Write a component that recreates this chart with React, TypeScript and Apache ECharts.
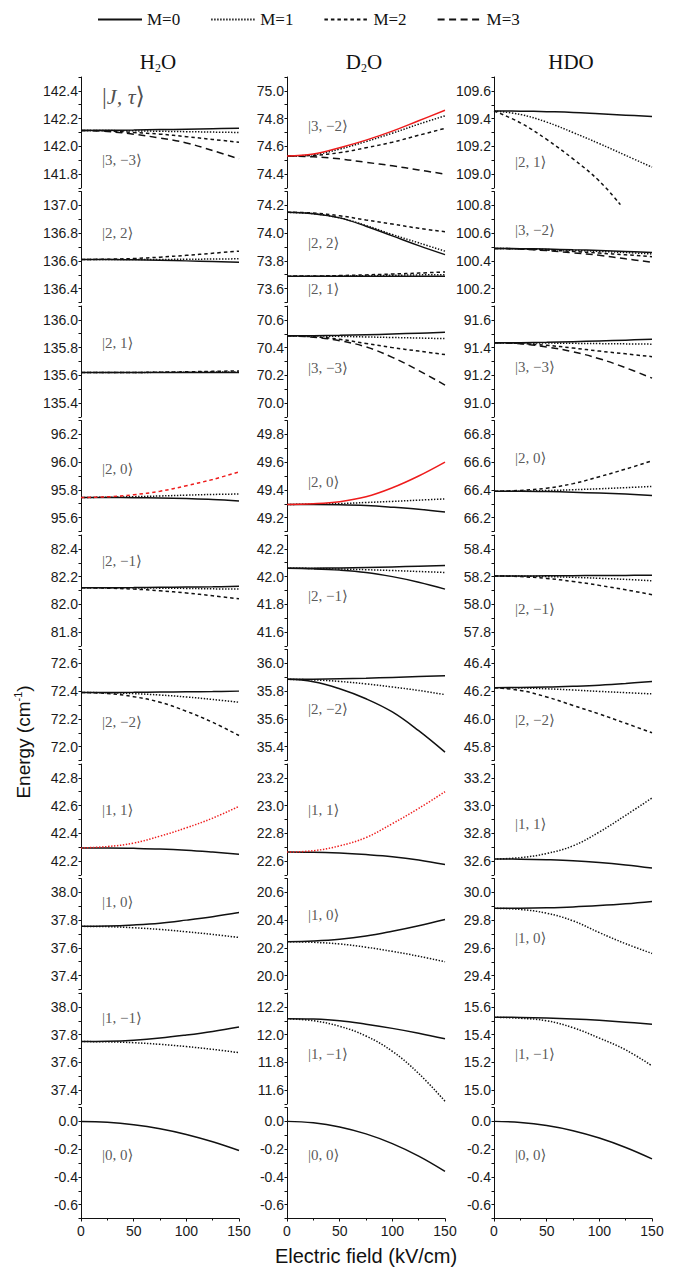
import React, { useEffect, useRef } from 'react';
import * as echarts from 'echarts';

// ---------- data ----------
const FIELD = [0, 25, 50, 75, 100, 125, 150];
const FIELD_SHORT = [0, 25, 50, 75, 100, 120];
const LEGEND_NAMES = ['M=0', 'M=1', 'M=2', 'M=3'];
const COLUMN_TITLES = ['H{s|2}O', 'D{s|2}O', 'HDO'];

// y-axis lower bounds per row (H2O, D2O, HDO); each panel spans 0.8 cm-1
const Y_MIN_H2O = [141.7, 136.3, 135.3, 95.5, 81.7, 71.9, 42.1, 37.3, 37.3, -0.7];
const Y_MIN_D2O = [74.3, 73.5, 69.9, 49.1, 41.5, 35.3, 22.5, 19.9, 11.5, -0.7];
const Y_MIN_HDO = [108.9, 100.1, 90.9, 66.1, 57.7, 45.7, 32.5, 29.3, 14.9, -0.7];

// state labels per row (text, energy position)
const LABELS_H2O: [string, number][] = [['|3, −3⟩', 141.9], ['|2, 2⟩', 136.8], ['|2, 1⟩', 135.83], ['|2, 0⟩', 95.95], ['|2, −1⟩', 82.315], ['|2, −2⟩', 72.175], ['|1, 1⟩', 42.57], ['|1, 0⟩', 37.93], ['|1, −1⟩', 37.92], ['|0, 0⟩', -0.24]];
const LABELS_D2O: [string, number][] = [['|3, −2⟩', 74.75], ['|2, 2⟩', 73.93], ['|3, −3⟩', 70.255], ['|2, 0⟩', 49.46], ['|2, −1⟩', 41.86], ['|2, −2⟩', 35.67], ['|1, 1⟩', 22.97], ['|1, 0⟩', 20.44], ['|1, −1⟩', 11.86], ['|0, 0⟩', -0.24]];
const LABELS_D2O_EXTRA: [string, number][] = [['|2, 1⟩', 73.6]];
const LABELS_HDO: [string, number][] = [['|2, 1⟩', 109.09], ['|3, −2⟩', 100.62], ['|3, −3⟩', 91.26], ['|2, 0⟩', 66.63], ['|2, −1⟩', 57.97], ['|2, −2⟩', 45.99], ['|1, 1⟩', 32.87], ['|1, 0⟩', 29.67], ['|1, −1⟩', 15.26], ['|0, 0⟩', -0.24]];
const LABEL_FIELD = 20;
const JTAU_POS = [20, 142.36];

// ---- row 1 ----
const H2O_3m3_M0 = [142.115, 142.116, 142.118, 142.121, 142.124, 142.127, 142.13];
const H2O_3m3_M1 = [142.115, 142.114, 142.112, 142.109, 142.106, 142.103, 142.1];
const H2O_3m3_M2 = [142.115, 142.111, 142.1, 142.088, 142.07, 142.05, 142.03];
const H2O_3m3_M3 = [142.115, 142.107, 142.088, 142.06, 142.025, 141.97, 141.91];
const D2O_3m2_M0 = [74.53, 74.545, 74.59, 74.645, 74.71, 74.785, 74.86];
const D2O_3m2_M1 = [74.53, 74.54, 74.58, 74.635, 74.695, 74.76, 74.82];
const D2O_3m2_M2 = [74.53, 74.535, 74.555, 74.59, 74.63, 74.68, 74.73];
const D2O_3m2_M3 = [74.53, 74.525, 74.51, 74.485, 74.46, 74.43, 74.4];
const HDO_21_M0 = [109.455, 109.454, 109.45, 109.445, 109.435, 109.425, 109.415];
const HDO_21_M1 = [109.455, 109.43, 109.375, 109.3, 109.22, 109.135, 109.05];
const HDO_21_M2 = [109.455, 109.37, 109.25, 109.11, 108.95, 108.78];
// ---- row 2 ----
const H2O_22_M0 = [136.61, 136.61, 136.608, 136.605, 136.6, 136.595, 136.59];
const H2O_22_M1 = [136.61, 136.61, 136.61, 136.61, 136.612, 136.613, 136.615];
const H2O_22_M2 = [136.61, 136.612, 136.617, 136.627, 136.64, 136.655, 136.67];
const D2O_22_M0 = [74.15, 74.14, 74.11, 74.05, 73.98, 73.91, 73.845];
const D2O_22_M1 = [74.15, 74.14, 74.11, 74.055, 73.99, 73.93, 73.87];
const D2O_22_M2 = [74.15, 74.145, 74.125, 74.095, 74.065, 74.035, 74.01];
const D2O_21_M0 = [73.69, 73.69, 73.69, 73.69, 73.69, 73.69, 73.69];
const D2O_21_M1 = [73.69, 73.69, 73.691, 73.693, 73.696, 73.699, 73.7];
const D2O_21_M2 = [73.69, 73.691, 73.694, 73.699, 73.705, 73.712, 73.72];
const HDO_3m2_M0 = [100.49, 100.488, 100.485, 100.48, 100.475, 100.468, 100.46];
const HDO_3m2_M1 = [100.49, 100.487, 100.482, 100.476, 100.468, 100.46, 100.45];
const HDO_3m2_M2 = [100.49, 100.486, 100.478, 100.468, 100.456, 100.444, 100.43];
const HDO_3m2_M3 = [100.49, 100.485, 100.474, 100.458, 100.44, 100.415, 100.39];
// ---- row 3 ----
const H2O_21_M0 = [135.62, 135.62, 135.62, 135.62, 135.62, 135.62, 135.62];
const H2O_21_M1 = [135.62, 135.62, 135.621, 135.622, 135.623, 135.624, 135.625];
const H2O_21_M2 = [135.62, 135.62, 135.621, 135.623, 135.626, 135.629, 135.632];
const D2O_3m3_M0 = [70.485, 70.486, 70.489, 70.493, 70.498, 70.504, 70.51];
const D2O_3m3_M1 = [70.485, 70.484, 70.481, 70.477, 70.473, 70.469, 70.465];
const D2O_3m3_M2 = [70.485, 70.478, 70.46, 70.43, 70.4, 70.375, 70.35];
const D2O_3m3_M3 = [70.485, 70.475, 70.45, 70.405, 70.33, 70.235, 70.13];
const HDO_3m3_M0 = [91.435, 91.436, 91.439, 91.443, 91.448, 91.454, 91.46];
const HDO_3m3_M1 = [91.435, 91.434, 91.433, 91.431, 91.429, 91.427, 91.425];
const HDO_3m3_M2 = [91.435, 91.43, 91.417, 91.397, 91.375, 91.355, 91.335];
const HDO_3m3_M3 = [91.435, 91.428, 91.405, 91.37, 91.32, 91.255, 91.18];
// ---- row 4 ----
const H2O_20_M0 = [95.745, 95.745, 95.744, 95.741, 95.737, 95.731, 95.72];
const H2O_20_M1 = [95.745, 95.747, 95.751, 95.756, 95.762, 95.767, 95.77];
const H2O_20_M2 = [95.745, 95.75, 95.765, 95.79, 95.83, 95.875, 95.93];
const D2O_20_M0 = [49.295, 49.295, 49.293, 49.287, 49.275, 49.26, 49.24];
const D2O_20_M1 = [49.295, 49.297, 49.301, 49.309, 49.317, 49.326, 49.335];
const D2O_20_M2 = [49.295, 49.3, 49.315, 49.35, 49.415, 49.5, 49.6];
const HDO_20_M0 = [66.39, 66.39, 66.388, 66.383, 66.377, 66.37, 66.36];
const HDO_20_M1 = [66.39, 66.391, 66.395, 66.401, 66.408, 66.416, 66.425];
const HDO_20_M2 = [66.39, 66.396, 66.412, 66.445, 66.495, 66.55, 66.61];
// ---- row 5 ----
const H2O_2m1_M0 = [82.12, 82.12, 82.121, 82.123, 82.125, 82.127, 82.13];
const H2O_2m1_M1 = [82.12, 82.12, 82.119, 82.117, 82.115, 82.112, 82.11];
const H2O_2m1_M2 = [82.12, 82.117, 82.11, 82.098, 82.082, 82.062, 82.04];
const D2O_2m1_M0 = [42.06, 42.061, 42.063, 42.066, 42.07, 42.075, 42.08];
const D2O_2m1_M1 = [42.06, 42.059, 42.055, 42.05, 42.044, 42.037, 42.03];
const D2O_2m1_M2 = [42.06, 42.056, 42.047, 42.03, 42.0, 41.96, 41.91];
const HDO_2m1_M0 = [58.205, 58.205, 58.206, 58.207, 58.208, 58.209, 58.21];
const HDO_2m1_M1 = [58.205, 58.204, 58.2, 58.195, 58.188, 58.18, 58.17];
const HDO_2m1_M2 = [58.205, 58.2, 58.187, 58.165, 58.137, 58.105, 58.07];
// ---- row 6 ----
const H2O_2m2_M0 = [72.39, 72.39, 72.391, 72.393, 72.395, 72.397, 72.4];
const H2O_2m2_M1 = [72.39, 72.388, 72.382, 72.372, 72.358, 72.34, 72.32];
const H2O_2m2_M2 = [72.39, 72.383, 72.36, 72.32, 72.255, 72.175, 72.08];
const D2O_2m2_M0 = [35.885, 35.886, 35.889, 35.893, 35.899, 35.905, 35.91];
const D2O_2m2_M1 = [35.885, 35.881, 35.87, 35.852, 35.83, 35.805, 35.775];
const D2O_2m2_M2 = [35.885, 35.868, 35.817, 35.745, 35.65, 35.515, 35.36];
const HDO_2m2_M0 = [46.225, 46.226, 46.229, 46.235, 46.243, 46.255, 46.27];
const HDO_2m2_M1 = [46.225, 46.223, 46.217, 46.208, 46.198, 46.189, 46.18];
const HDO_2m2_M2 = [46.225, 46.205, 46.158, 46.097, 46.035, 45.968, 45.9];
// ---- row 7 ----
const H2O_11_M0 = [42.295, 42.295, 42.292, 42.287, 42.278, 42.265, 42.25];
const H2O_11_M1 = [42.295, 42.305, 42.33, 42.38, 42.44, 42.51, 42.595];
const D2O_11_M0 = [22.665, 22.664, 22.658, 22.647, 22.632, 22.608, 22.575];
const D2O_11_M1 = [22.665, 22.675, 22.71, 22.77, 22.87, 22.98, 23.1];
const HDO_11_M0 = [32.615, 32.614, 32.61, 32.603, 32.59, 32.572, 32.55];
const HDO_11_M1 = [32.615, 32.625, 32.655, 32.71, 32.81, 32.93, 33.055];
// ---- row 8 ----
const H2O_10_M0 = [37.755, 37.757, 37.765, 37.778, 37.8, 37.825, 37.855];
const H2O_10_M1 = [37.755, 37.753, 37.745, 37.733, 37.716, 37.697, 37.675];
const D2O_10_M0 = [20.245, 20.25, 20.262, 20.285, 20.32, 20.36, 20.405];
const D2O_10_M1 = [20.245, 20.24, 20.228, 20.205, 20.175, 20.14, 20.1];
const HDO_10_M0 = [29.885, 29.886, 29.889, 29.895, 29.905, 29.918, 29.935];
const HDO_10_M1 = [29.885, 29.877, 29.85, 29.795, 29.71, 29.63, 29.56];
// ---- row 9 ----
const H2O_1m1_M0 = [37.75, 37.752, 37.76, 37.775, 37.797, 37.823, 37.855];
const H2O_1m1_M1 = [37.75, 37.748, 37.742, 37.73, 37.714, 37.694, 37.67];
const D2O_1m1_M0 = [12.115, 12.112, 12.1, 12.075, 12.045, 12.01, 11.97];
const D2O_1m1_M1 = [12.115, 12.1, 12.06, 11.99, 11.88, 11.72, 11.52];
const HDO_1m1_M0 = [15.525, 15.524, 15.52, 15.513, 15.503, 15.49, 15.475];
const HDO_1m1_M1 = [15.525, 15.518, 15.5, 15.45, 15.375, 15.29, 15.175];
// ---- row 10 ----
const H2O_00_M0 = [0, -0.006, -0.024, -0.053, -0.094, -0.147, -0.21];
const D2O_00_M0 = [0, -0.01, -0.04, -0.09, -0.16, -0.25, -0.36];
const HDO_00_M0 = [0, -0.008, -0.03, -0.067, -0.12, -0.188, -0.27];

type Curve = { m: number; y: number[]; x?: number[]; red?: boolean; solid?: boolean; noClip?: boolean };

const H2O_ROWS: Curve[][] = [
  [{ m: 0, y: H2O_3m3_M0 }, { m: 1, y: H2O_3m3_M1 }, { m: 2, y: H2O_3m3_M2 }, { m: 3, y: H2O_3m3_M3 }],
  [{ m: 0, y: H2O_22_M0 }, { m: 1, y: H2O_22_M1 }, { m: 2, y: H2O_22_M2 }],
  [{ m: 0, y: H2O_21_M0 }, { m: 1, y: H2O_21_M1 }, { m: 2, y: H2O_21_M2 }],
  [{ m: 0, y: H2O_20_M0 }, { m: 1, y: H2O_20_M1 }, { m: 2, y: H2O_20_M2, red: true }],
  [{ m: 0, y: H2O_2m1_M0 }, { m: 1, y: H2O_2m1_M1 }, { m: 2, y: H2O_2m1_M2 }],
  [{ m: 0, y: H2O_2m2_M0 }, { m: 1, y: H2O_2m2_M1 }, { m: 2, y: H2O_2m2_M2 }],
  [{ m: 0, y: H2O_11_M0 }, { m: 1, y: H2O_11_M1, red: true }],
  [{ m: 0, y: H2O_10_M0 }, { m: 1, y: H2O_10_M1 }],
  [{ m: 0, y: H2O_1m1_M0 }, { m: 1, y: H2O_1m1_M1 }],
  [{ m: 0, y: H2O_00_M0 }],
];
const D2O_ROWS: Curve[][] = [
  [{ m: 1, y: D2O_3m2_M1 }, { m: 2, y: D2O_3m2_M2 }, { m: 3, y: D2O_3m2_M3 }, { m: 0, y: D2O_3m2_M0, red: true }],
  [{ m: 0, y: D2O_22_M0 }, { m: 1, y: D2O_22_M1 }, { m: 2, y: D2O_22_M2 }, { m: 0, y: D2O_21_M0 }, { m: 1, y: D2O_21_M1 }, { m: 2, y: D2O_21_M2 }],
  [{ m: 0, y: D2O_3m3_M0 }, { m: 1, y: D2O_3m3_M1 }, { m: 2, y: D2O_3m3_M2 }, { m: 3, y: D2O_3m3_M3 }],
  [{ m: 0, y: D2O_20_M0 }, { m: 1, y: D2O_20_M1 }, { m: 2, y: D2O_20_M2, red: true, solid: true }],
  [{ m: 0, y: D2O_2m1_M0 }, { m: 1, y: D2O_2m1_M1 }, { m: 2, y: D2O_2m1_M2, solid: true }],
  [{ m: 0, y: D2O_2m2_M0 }, { m: 1, y: D2O_2m2_M1 }, { m: 2, y: D2O_2m2_M2, solid: true }],
  [{ m: 0, y: D2O_11_M0 }, { m: 1, y: D2O_11_M1, red: true }],
  [{ m: 0, y: D2O_10_M0 }, { m: 1, y: D2O_10_M1 }],
  [{ m: 0, y: D2O_1m1_M0 }, { m: 1, y: D2O_1m1_M1 }],
  [{ m: 0, y: D2O_00_M0 }],
];
const HDO_ROWS: Curve[][] = [
  [{ m: 0, y: HDO_21_M0 }, { m: 1, y: HDO_21_M1 }, { m: 2, y: HDO_21_M2, x: FIELD_SHORT, noClip: true }],
  [{ m: 0, y: HDO_3m2_M0 }, { m: 1, y: HDO_3m2_M1 }, { m: 2, y: HDO_3m2_M2 }, { m: 3, y: HDO_3m2_M3 }],
  [{ m: 0, y: HDO_3m3_M0 }, { m: 1, y: HDO_3m3_M1 }, { m: 2, y: HDO_3m3_M2 }, { m: 3, y: HDO_3m3_M3 }],
  [{ m: 0, y: HDO_20_M0 }, { m: 1, y: HDO_20_M1 }, { m: 2, y: HDO_20_M2 }],
  [{ m: 0, y: HDO_2m1_M0 }, { m: 1, y: HDO_2m1_M1 }, { m: 2, y: HDO_2m1_M2 }],
  [{ m: 0, y: HDO_2m2_M0 }, { m: 1, y: HDO_2m2_M1 }, { m: 2, y: HDO_2m2_M2 }],
  [{ m: 0, y: HDO_11_M0 }, { m: 1, y: HDO_11_M1 }],
  [{ m: 0, y: HDO_10_M0 }, { m: 1, y: HDO_10_M1 }],
  [{ m: 0, y: HDO_1m1_M0 }, { m: 1, y: HDO_1m1_M1 }],
  [{ m: 0, y: HDO_00_M0 }],
];

// ---------- layout / style ----------
const COL_LEFT = [81, 287, 494];
const COL_WIDTH = 158;
const ROW_TOP0 = 77;
const ROW_PITCH = 114.5;
const ROW_HEIGHT = 111;
const SPAN = 0.8;
const BLACK = '#111111';
const RED = '#ee1c1c';
const DASHES: any[] = ['solid', [1.4, 1.6], [3.5, 3], [7, 4.5]];
const SANS = 'Liberation Sans, Arial, sans-serif';
const SERIF = 'Liberation Serif, DejaVu Serif, serif';
const MATH = 'Liberation Serif, DejaVu Serif, serif';

function buildOption() {
  const grid: any[] = [];
  const xAxis: any[] = [];
  const yAxis: any[] = [];
  const series: any[] = [];
  const cols = [H2O_ROWS, D2O_ROWS, HDO_ROWS];
  const mins = [Y_MIN_H2O, Y_MIN_D2O, Y_MIN_HDO];
  const labels = [LABELS_H2O, LABELS_D2O, LABELS_HDO];
  let idx = 0;
  for (let r = 0; r < 10; r++) {
    for (let c = 0; c < 3; c++) {
      const bottom = r === 9;
      grid.push({ left: COL_LEFT[c], width: COL_WIDTH, top: ROW_TOP0 + r * ROW_PITCH, height: ROW_HEIGHT });
      xAxis.push({
        type: 'value', gridIndex: idx, min: 0, max: 150, interval: 50,
        show: bottom,
        name: bottom && c === 1 ? 'Electric field (kV/cm)' : '',
        nameLocation: 'middle', nameGap: 27,
        nameTextStyle: { fontFamily: SANS, fontSize: 20, color: BLACK },
        axisLine: { show: bottom, onZero: false, lineStyle: { color: BLACK, width: 1 } },
        axisTick: { show: bottom, length: 3, lineStyle: { color: BLACK } },
        minorTick: { show: bottom, splitNumber: 2, length: 2, lineStyle: { color: BLACK } },
        axisLabel: { show: bottom, fontFamily: SANS, fontSize: 14, color: '#1a1a1a', margin: 5 },
        splitLine: { show: false },
      });
      const mn = mins[c][r];
      yAxis.push({
        type: 'value', gridIndex: idx, min: mn, max: +(mn + SPAN).toFixed(1), interval: 0.1,
        axisLine: { show: true, onZero: false, lineStyle: { color: BLACK, width: 1 } },
        axisTick: { show: true, length: 2.5, lineStyle: { color: BLACK } },
        axisLabel: {
          fontFamily: SANS, fontSize: 14, color: '#1a1a1a', margin: 3,
          formatter: (v: number) => {
            const t = Math.round(v * 10);
            return t % 2 === 0 ? (t / 10).toFixed(1) : '';
          },
        },
        splitLine: { show: false },
      });
      for (const cv of cols[c][r]) {
        const xs = cv.x || FIELD;
        series.push({
          type: 'line', name: LEGEND_NAMES[cv.m], xAxisIndex: idx, yAxisIndex: idx,
          data: cv.y.map((v, i) => [xs[i], v]),
          smooth: 0.4, showSymbol: false, symbol: 'none', silent: true,
          clip: !cv.noClip,
          lineStyle: { color: cv.red ? RED : BLACK, width: 1.5, type: cv.solid ? 'solid' : DASHES[cv.m] },
          itemStyle: { color: cv.red ? RED : BLACK },
          z: cv.red ? 3 : 2,
        });
      }
      const lbls: any[] = [{ value: [LABEL_FIELD, labels[c][r][1]], name: labels[c][r][0] }];
      if (c === 1 && r === 1) lbls.push({ value: [LABEL_FIELD, LABELS_D2O_EXTRA[0][1]], name: LABELS_D2O_EXTRA[0][0] });
      const scatterData: any[] = lbls.map((d) => ({
        value: d.value,
        label: { show: true, position: 'right', distance: 0, formatter: d.name, fontFamily: MATH, fontSize: 15, color: '#2e2e2e' },
      }));
      if (r === 0 && c === 0) {
        scatterData.push({
          value: JTAU_POS,
          label: {
            show: true, position: 'right', distance: 0,
            formatter: '{a||}{i|J, τ}{a|⟩}',
            rich: {
              a: { fontFamily: MATH, fontSize: 24, color: '#222' },
              i: { fontFamily: MATH, fontSize: 22, fontStyle: 'italic', color: '#222' },
            },
          },
        });
      }
      series.push({
        type: 'scatter', name: 'state', xAxisIndex: idx, yAxisIndex: idx, symbolSize: 0, silent: true,
        data: scatterData, z: 5,
      });
      idx++;
    }
  }

  const graphic: any[] = [];
  COLUMN_TITLES.forEach((t, c) => {
    graphic.push({
      type: 'text', x: COL_LEFT[c] + COL_WIDTH / 2 - 2, y: 62,
      style: {
        text: t, align: 'center', verticalAlign: 'middle',
        fontFamily: SERIF, fontSize: 21, fill: BLACK,
        rich: { s: { fontFamily: SERIF, fontSize: 12, fill: BLACK, padding: [12, 0, 0, 0] } },
      },
    });
  });
  graphic.push({
    type: 'text', x: 23, y: 742, rotation: Math.PI / 2,
    style: {
      text: 'Energy (cm{u|-1})', align: 'center', verticalAlign: 'middle',
      fontFamily: SANS, fontSize: 19, fill: BLACK,
      rich: { u: { fontFamily: SANS, fontSize: 11, fill: BLACK, padding: [0, 0, 10, 0] } },
    },
  });

  return {
    animation: false,
    backgroundColor: '#ffffff',
    legend: {
      data: LEGEND_NAMES, left: 92, top: 6, itemWidth: 44, itemHeight: 12, itemGap: 30,
      itemStyle: { opacity: 0 },
      textStyle: { fontFamily: SERIF, fontSize: 17, color: BLACK },
      selectedMode: false,
    },
    grid, xAxis, yAxis, series, graphic,
  };
}

export default function App() {
  const ref = useRef<HTMLDivElement>(null);
  useEffect(() => {
    document.body.style.margin = '0';
    const chart = echarts.init(ref.current!, undefined, { renderer: 'svg' });
    chart.setOption(buildOption() as any);
    return () => chart.dispose();
  }, []);
  return <div ref={ref} style={{ width: 683, height: 1270 }} />;
}
